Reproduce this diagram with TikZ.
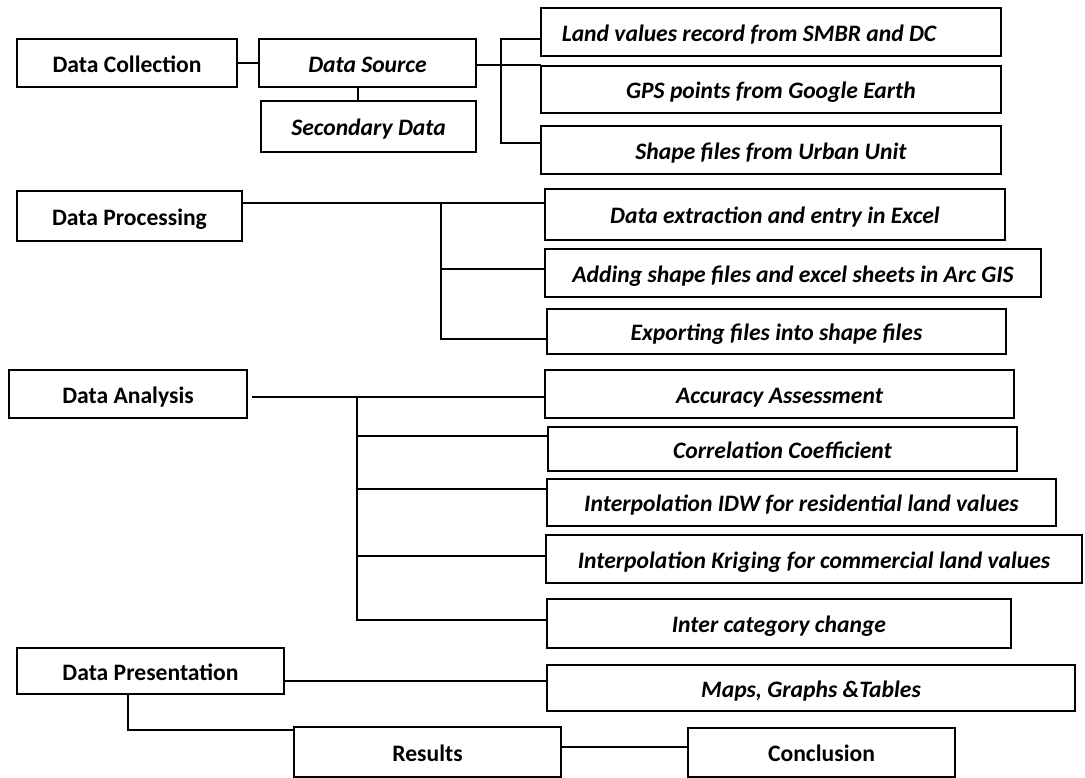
\documentclass[tikz,border=0pt]{standalone}
\usepackage{fontspec}
\setmainfont{Carlito}
\usetikzlibrary{calc}

\tikzset{
  stage/.style={draw, line width=1.7pt, inner sep=0pt, outer sep=0pt,
    text height=21pt, text depth=2.8pt,
    font=\fontsize{23.6}{28}\selectfont\bfseries},
  task/.style={stage, font=\fontsize{23.6}{28}\selectfont\bfseries\itshape},
  link/.style={line width=1.7pt}
}

\begin{document}
\begin{tikzpicture}[x=1pt, y=-1pt]
  \useasboundingbox[fill=white] (0,0) rectangle (1085,778);

  % collection
  \node[stage, minimum width=220, minimum height=48] (dc) at (127,63) {Data Collection};
  \node[task, minimum width=217, minimum height=48] (ds) at (367.5,63) {Data Source};
  \node[task, minimum width=215, minimum height=51] (sd) at (368.5,126.5) {Secondary Data};
  \node[task, minimum width=460, minimum height=48] (lv) at (771,32) {Land values record from SMBR and DC\hspace{44pt}\null};
  \node[task, minimum width=460, minimum height=47] (gps) at (771,89.5) {GPS points from Google Earth};
  \node[task, minimum width=460, minimum height=48] (shp) at (771,150) {Shape files from Urban Unit};

  % processing
  \node[stage, minimum width=225, minimum height=50] (dp) at (129.5,216) {Data Processing};
  \node[task, minimum width=460, minimum height=51] (ext) at (775,214.5) {Data extraction and entry in Excel};
  \node[task, minimum width=496, minimum height=48] (add) at (793,273) {Adding shape files and excel sheets in Arc GIS};
  \node[task, minimum width=459, minimum height=45] (exp) at (776.5,331.5) {Exporting files into shape files};

  % analysis
  \node[stage, minimum width=238, minimum height=48] (da) at (128,394) {Data Analysis};
  \node[task, minimum width=469, minimum height=48] (acc) at (779.5,394) {Accuracy Assessment};
  \node[task, minimum width=469, minimum height=44] (cor) at (782.5,449) {Correlation Coefficient};
  \node[task, minimum width=509, minimum height=47] (idw) at (801.5,502.5) {Interpolation IDW for residential land values};
  \node[task, minimum width=536, minimum height=48] (krg) at (814,559) {Interpolation Kriging for commercial land values};
  \node[task, minimum width=464, minimum height=49] (inter) at (779,623.5) {Inter category change};

  % presentation
  \node[stage, minimum width=267, minimum height=46] (dpr) at (150.5,671) {Data Presentation};
  \node[task, minimum width=528, minimum height=46] (maps) at (811,688) {Maps, Graphs \&Tables};
  \node[stage, minimum width=267, minimum height=50] (res) at (427.5,752) {Results};
  \node[stage, minimum width=267, minimum height=49] (con) at (821.5,752.5) {Conclusion};

  % bus points
  \coordinate (sbTop) at (501,39);
  \coordinate (sbBot) at (501,143);
  \coordinate (pbTop) at (441,203);
  \coordinate (pbMid) at (441,269);
  \coordinate (pbBot) at (441,339);
  \coordinate (abTop) at (357,397);
  \coordinate (abA) at (357,436);
  \coordinate (abB) at (357,489);
  \coordinate (abC) at (357,556);
  \coordinate (abBot) at (357,620);
  \coordinate (mbTap) at (400,681);
  \coordinate (rbTurn) at (128,730);

  % connectors
  \draw[link] (dc.east) -- (ds.west);
  \draw[link] ([xshift=-9.5pt]ds.south) -- ([xshift=-9.5pt]ds.south |- sd.north);
  \draw[link] ([yshift=-2pt]ds.east) -- ([yshift=-2pt]ds.east -| gps.west);
  \draw[link] (lv.west |- sbTop) -- (sbTop) -- (sbBot) -- (sbBot -| shp.west);

  \draw[link] (dp.east |- pbTop) -- (ext.west |- pbTop);
  \draw[link] (pbTop) -- (pbBot) -- (exp.west |- pbBot);
  \draw[link] (pbMid) -- (add.west |- pbMid);

  \draw[link] ([xshift=5pt]da.east |- abTop) -- (acc.west |- abTop);
  \draw[link] (abTop) -- (abBot) -- (inter.west |- abBot);
  \foreach \tap/\target in {abA/cor, abB/idw, abC/krg}
    \draw[link] (\tap) -- (\target.west |- \tap);

  \draw[link] (dpr.east |- mbTap) -- (maps.west |- mbTap);
  \draw[link] (dpr.south -| rbTurn) -- (rbTurn) -- (rbTurn -| res.west);
  \draw[link] ([yshift=5pt]res.east) -- ([yshift=5pt]res.east -| con.west);
\end{tikzpicture}
\end{document}
